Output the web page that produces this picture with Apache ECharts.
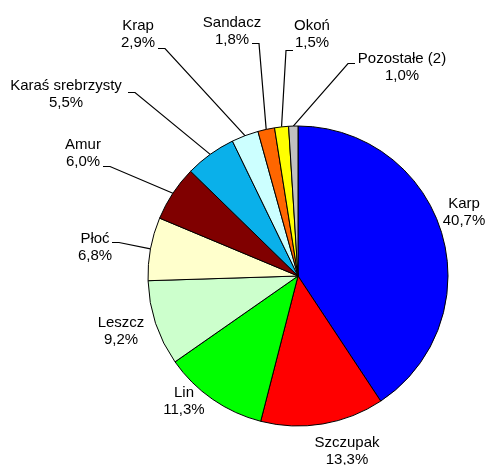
<!DOCTYPE html>
<html>
<head>
<meta charset="utf-8">
<script src="https://cdn.jsdelivr.net/npm/echarts@6/dist/echarts.min.js"></script>
<style>
html,body{margin:0;padding:0;background:#fff;}
#chart{width:489px;height:465px;}
</style>
</head>
<body>
<div id="chart"></div>
<script>
// Data
var categories = ['Karp', 'Szczupak', 'Lin', 'Leszcz', 'Płoć', 'Amur', 'Karaś srebrzysty', 'Krap', 'Sandacz', 'Okoń', 'Pozostałe (2)'];
var shares = [40.7, 13.3, 11.3, 9.2, 6.8, 6.0, 5.5, 2.9, 1.8, 1.5, 1.0];

// Styles / label placement (not data)
var sliceColors = ['#0000FF', '#FF0000', '#00FF00', '#CCFFCC', '#FFFFCC', '#800000', '#0AB0EA', '#CCFFFF', '#FF6600', '#FFFF00', '#C0C0C0'];
var showLine = [false, false, false, false, true, true, true, true, true, true, true];
var labelCenters = [
  [464, 212], [347, 451], [184, 401], [121, 331], [95, 247], [83, 153],
  [66, 94], [138, 34], [232, 31], [312, 34], [402, 67]
];
// where the leader line leaves the label, relative to the label centre
var lineAttach = [
  null, null, null, null, [17, -5], [20, 13],
  [62, -2], [20, 14], [20, 12], [-19, 16], [-47, -4]
];
var stubLen = 7;

function fmt(v) { return v.toFixed(1).replace('.', ',') + '%'; }

var data = categories.map(function (c, i) {
  return {
    name: c,
    value: shares[i],
    itemStyle: { color: sliceColors[i] },
    labelLine: { show: showLine[i] }
  };
});

var chart = echarts.init(document.getElementById('chart'), null, { renderer: 'canvas' });
chart.setOption({
  backgroundColor: '#ffffff',
  animation: false,
  series: [{
    type: 'pie',
    center: [298, 276],
    radius: 150,
    startAngle: 90,
    clockwise: true,
    data: data,
    itemStyle: { borderColor: '#000', borderWidth: 1 },
    emphasis: { disabled: true },
    label: {
      show: true,
      position: 'outside',
      overflow: 'none',
      formatter: function (p) { return p.name + '\n' + fmt(p.value); },
      fontFamily: 'Liberation Sans, Arial, sans-serif',
      fontSize: 15,
      lineHeight: 17,
      color: '#000',
      align: 'center'
    },
    labelLine: {
      show: true,
      length: 10,
      length2: 7,
      lineStyle: { color: '#000', width: 1.2 }
    },
    labelLayout: function (p) {
      var i = p.dataIndex;
      var c = labelCenters[i];
      var res = { x: c[0], y: c[1], align: 'center', verticalAlign: 'middle' };
      var a = lineAttach[i];
      if (a && p.labelLinePoints) {
        var arc = p.labelLinePoints[0];
        var sx = c[0] + a[0], sy = c[1] + a[1] + 0.5;
        var dir = a[0] > 0 ? 1 : -1;
        res.labelLinePoints = [[arc[0], arc[1]], [sx + dir * stubLen, sy], [sx, sy]];
      }
      return res;
    }
  }]
});
</script>
</body>
</html>
